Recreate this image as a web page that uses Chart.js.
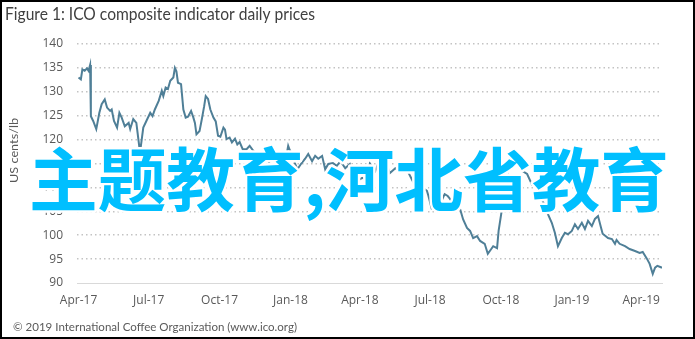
<!DOCTYPE html>
<html>
<head>
<meta charset="utf-8">
<script src="https://cdn.jsdelivr.net/npm/chart.js@4"></script>
<style>
html,body{margin:0;padding:0;background:#fff;}
canvas{display:block;}
</style>
</head>
<body>
<canvas id="c" width="695" height="339"></canvas>
<script>
// ---- data ----
const titleText = 'Figure 1: ICO composite indicator daily prices';
const footerText = '\u00A9 2019 International Coffee Organization (www.ico.org)';
const yAxisTitle = 'US cents/lb';
const overlayText = '主题教育,河北省教育';

// tick positions: days since 2017-04-01
const tickDays = [0, 91, 183, 275, 365, 456, 548, 640, 730];
const tickLabels = ['Apr-17','Jul-17','Oct-17','Jan-18','Apr-18','Jul-18','Oct-18','Jan-19','Apr-19'];
const yMin = 90, yMax = 140, yStep = 5;

// observation dates (days since 2017-04-01) and prices (US cents/lb)
const days = [0,3,5,8,11,13,15,16,19,23,27,30,34,37,41,43,46,50,53,56,60,65,67,71,75,79,80,84,88,93,96,99,104,108,110,113,116,119,123,125,127,129,133,136,139,142,146,149,151,153,157,160,163,165,168,171,175,178,181,184,188,190,192,196,199,203,206,209,213,218,222,227,233,238,243,248,251,255,260,265,269,272,274,277,281,284,289,294,298,303,307,311,316,320,324,330,335,340,346,352,357,361,368,374,378,385,390,394,398,404,411,416,421,427,433,439,443,447,452,454,458,464,469,475,479,482,486,491,495,499,504,508,512,517,521,527,531,535,538,543,545,549,553,557,560,563,566,570,573,576,582,588,592,596,600,605,609,614,618,622,627,631,635,640,644,648,653,657,661,666,670,674,678,680,687,692,696,698,702,709,715,722,728,732,737,741,745,748,751,757];
const prices = [133.0,132.6,134.7,134.4,134.9,134.4,135.6,124.9,123.9,122.2,125.6,127.4,128.4,126.7,126.0,126.3,123.9,122.5,125.6,124.6,122.8,123.5,122.2,124.3,123.5,118.3,117.6,122.5,123.9,125.6,124.9,126.3,128.1,130.2,129.1,130.9,130.6,132.3,133.0,135.0,134.3,131.9,131.6,126.3,124.6,124.8,126.0,124.6,123.5,121.1,121.8,124.3,127.0,129.1,128.5,126.3,124.6,123.8,120.8,120.6,122.5,122.1,120.1,120.4,119.4,120.2,119.0,119.5,118.0,118.0,118.7,117.6,117.0,116.5,116.8,114.9,110.7,113.8,113.0,113.4,116.0,118.7,117.8,117.0,114.9,113.8,115.0,116.0,117.0,115.5,116.6,116.0,116.6,113.8,114.9,115.1,114.5,115.5,114.0,114.9,112.5,111.3,112.0,111.6,115.0,113.4,115.5,117.0,115.5,113.0,114.0,113.5,114.0,113.4,111.5,109.7,109.9,109.9,109.3,108.2,105.7,106.7,106.5,108.6,108.2,107.6,105.1,105.8,105.5,103.3,101.5,100.9,99.4,99.8,98.8,98.2,96.1,97.0,97.7,97.3,100.9,105.1,109.9,113.4,116.0,117.0,115.5,116.2,115.5,113.4,112.8,110.7,111.3,109.3,108.0,106.1,104.4,102.6,100.5,97.7,99.4,100.5,100.2,100.9,102.3,101.3,102.6,101.3,103.0,101.9,103.4,104.0,101.5,100.3,99.4,99.2,98.2,99.0,98.2,97.7,97.1,96.7,96.3,96.5,95.2,94.0,91.9,93.2,93.6,93.2];

const points = days.map((d, i) => ({x: d, y: prices[i]}));

function fitText(ctx, text, x, y, width) {
  const w = ctx.measureText(text).width;
  ctx.save();
  ctx.translate(x, y);
  ctx.scale(width / w, 1);
  ctx.fillText(text, 0, 0);
  ctx.restore();
}

const decor = {
  id: 'decor',
  beforeDraw(chart) {
    const ctx = chart.ctx;
    ctx.save();
    ctx.fillStyle = '#ffffff';
    ctx.fillRect(0, 0, chart.width, chart.height);
    ctx.restore();
  },
  afterDraw(chart) {
    const ctx = chart.ctx;
    ctx.save();
    // title
    ctx.fillStyle = '#404040';
    ctx.textAlign = 'left';
    ctx.textBaseline = 'alphabetic';
    ctx.font = '17px Lato';
    fitText(ctx, titleText, 5, 20, 310);
    // footer
    ctx.fillStyle = '#595959';
    ctx.font = '11.5px Lato';
    fitText(ctx, footerText, 13, 331, 284);
    // y axis title
    ctx.save();
    ctx.translate(18, 183);
    ctx.rotate(-Math.PI / 2);
    ctx.font = '12px Lato';
    ctx.fillStyle = '#595959';
    fitText(ctx, yAxisTitle, 0, 0, 65);
    ctx.restore();
    // overlay text
    ctx.font = 'bold 69px "Noto Sans CJK SC"';
    const w = ctx.measureText(overlayText).width;
    ctx.save();
    ctx.translate(349, 206);
    ctx.scale(640 / w, 1);
    ctx.textAlign = 'center';
    ctx.lineJoin = 'round';
    ctx.strokeStyle = '#ffffff';
    ctx.lineWidth = 5;
    ctx.strokeText(overlayText, 0, 0);
    ctx.fillStyle = '#00BFFF';
    ctx.fillText(overlayText, 0, 0);
    ctx.restore();
    // frame
    ctx.strokeStyle = '#000000';
    ctx.lineWidth = 2;
    ctx.strokeRect(1, 1, chart.width - 2, chart.height - 2);
    ctx.restore();
  }
};

new Chart(document.getElementById('c'), {
  type: 'line',
  data: {
    datasets: [{
      data: points,
      borderColor: '#4f7f97',
      borderWidth: 2,
      pointRadius: 0,
      tension: 0,
      fill: false
    }]
  },
  options: {
    responsive: false,
    animation: false,
    parsing: true,
    layout: { padding: { top: 44, right: 33, bottom: 0, left: 0 } },
    plugins: { legend: { display: false }, tooltip: { enabled: false }, title: { display: false } },
    scales: {
      x: {
        type: 'linear',
        min: -2,
        max: 757,
        afterBuildTicks(scale) { scale.ticks = tickDays.map(v => ({ value: v })); },
        afterFit(scale) { scale.height = 56; },
        ticks: {
          autoSkip: false,
          maxRotation: 0,
          padding: 10,
          color: '#595959',
          font: { family: 'Open Sans', size: 12 },
          callback(value) { const i = tickDays.indexOf(value); return i >= 0 ? tickLabels[i] : ''; }
        },
        grid: { display: false, drawTicks: false },
        border: { display: true, color: '#d9d9d9', width: 1 }
      },
      y: {
        min: yMin,
        max: yMax,
        afterFit(scale) { scale.width = 77; },
        ticks: {
          stepSize: yStep,
          padding: 14,
          color: '#595959',
          font: { family: 'Open Sans', size: 12 }
        },
        grid: {
          drawTicks: false,
          lineWidth: 1.5,
          color: (c) => (c.tick && c.tick.value === yMin) ? 'rgba(0,0,0,0)' : '#c3c3c3'
        },
        border: { display: false, dash: [1.5, 3] }
      }
    }
  },
  plugins: [decor]
});
</script>
</body>
</html>
